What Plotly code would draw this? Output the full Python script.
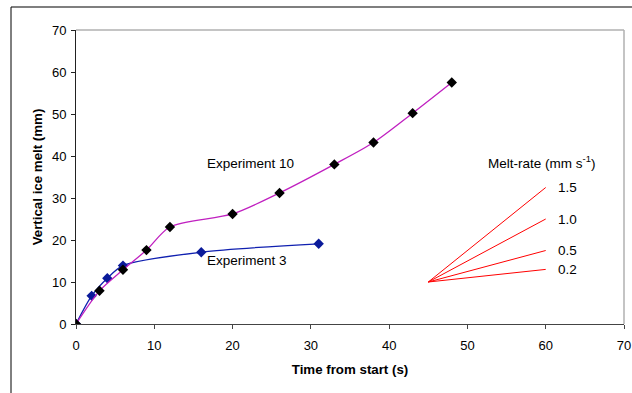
import plotly.graph_objects as go

# Experiment 10
exp10_t = [0, 3, 6, 9, 12, 20, 26, 33, 38, 43, 48]
exp10_v = [0, 7.9, 12.9, 17.6, 23.1, 26.2, 31.2, 38.0, 43.2, 50.2, 57.5]

# Experiment 3
exp3_t = [0, 2, 4, 6, 16, 31]
exp3_v = [0, 6.7, 10.9, 13.9, 17.1, 19.1]

# Melt-rate guide fan
rate_origin_t = 45
rate_origin_v = 10
rate_end_t = 60
rates = [1.5, 1.0, 0.5, 0.2]
rate_labels = ["1.5", "1.0", "0.5", "0.2"]

x_ticks = [0, 10, 20, 30, 40, 50, 60, 70]
y_ticks = [0, 10, 20, 30, 40, 50, 60, 70]

FONT = "Liberation Sans, Arial, sans-serif"

fig = go.Figure()

for r in rates:
    fig.add_trace(go.Scatter(
        x=[rate_origin_t, rate_end_t],
        y=[rate_origin_v, rate_origin_v + r * (rate_end_t - rate_origin_t)],
        mode="lines", line=dict(color="#FF0000", width=1),
        hoverinfo="skip", showlegend=False))

fig.add_trace(go.Scatter(
    x=exp3_t, y=exp3_v, mode="lines+markers",
    line=dict(color="#1020B0", width=1.3, shape="spline", smoothing=0.8),
    marker=dict(symbol="diamond", size=8, color="#0A1A9A"),
    showlegend=False, hoverinfo="skip"))

fig.add_trace(go.Scatter(
    x=exp10_t, y=exp10_v, mode="lines+markers",
    line=dict(color="#C020C0", width=1.3, shape="spline", smoothing=0.8),
    marker=dict(symbol="diamond", size=8, color="#000000"),
    showlegend=False, hoverinfo="skip"))

annotations = [
    dict(x=22.3, y=38.3, text="Experiment 10", showarrow=False, xanchor="center", yanchor="middle"),
    dict(x=21.9, y=15.1, text="Experiment 3", showarrow=False, xanchor="center", yanchor="middle"),
    dict(x=59.5, y=38.6, text="Melt-rate (mm s<sup>-1</sup>)", showarrow=False, xanchor="center", yanchor="middle"),
]
for r, lab in zip(rates, rate_labels):
    annotations.append(dict(x=61.3, y=rate_origin_v + r * (rate_end_t - rate_origin_t),
                            text=lab, showarrow=False, xanchor="left", yanchor="middle"))
for a in annotations:
    a["font"] = dict(family=FONT, size=13.5, color="#000000")

shapes = [
    # plot area top & right (gray)
    dict(type="line", xref="paper", yref="paper", x0=0, x1=1, y0=1, y1=1,
         line=dict(color="#B0B0B0", width=1.5)),
    dict(type="line", xref="paper", yref="paper", x0=1, x1=1, y0=0, y1=1,
         line=dict(color="#B0B0B0", width=1.5)),
    # outer frame (top & left)
    dict(type="line", xref="paper", yref="paper", x0=-0.1186, x1=1.02, y0=1.078, y1=1.078,
         line=dict(color="#555555", width=1.5)),
    dict(type="line", xref="paper", yref="paper", x0=-0.1186, x1=-0.1186, y0=-0.3, y1=1.078,
         line=dict(color="#000000", width=1)),
]

fig.update_layout(
    width=632, height=393,
    margin=dict(l=76, r=8, t=30, b=69, autoexpand=False),
    paper_bgcolor="white", plot_bgcolor="white",
    font=dict(family=FONT, size=13, color="#000000"),
    annotations=annotations, shapes=shapes,
    xaxis=dict(range=[0, 70], tickvals=x_ticks, showgrid=False, zeroline=False,
               showline=True, linecolor="#444444", linewidth=1, automargin=False,
               ticks="outside", ticklen=4, tickcolor="#444444", ticklabelstandoff=5,
               tickfont=dict(family=FONT, size=13),
               title=dict(text="<b>Time from start (s)</b>", font=dict(family=FONT, size=13.3), standoff=13)),
    yaxis=dict(range=[0, 70], tickvals=y_ticks, showgrid=False, zeroline=False,
               showline=True, linecolor="#222222", linewidth=1, automargin=False,
               ticks="outside", ticklen=4, tickcolor="#222222", ticklabelstandoff=2,
               tickfont=dict(family=FONT, size=13),
               title=dict(text="<b>Vertical ice melt (mm)</b>", font=dict(family=FONT, size=13.3), standoff=6)),
)

fig.write_html("out.html", config={"displayModeBar": False},
               post_script="document.body.style.margin='0';document.body.style.overflow='hidden';")
